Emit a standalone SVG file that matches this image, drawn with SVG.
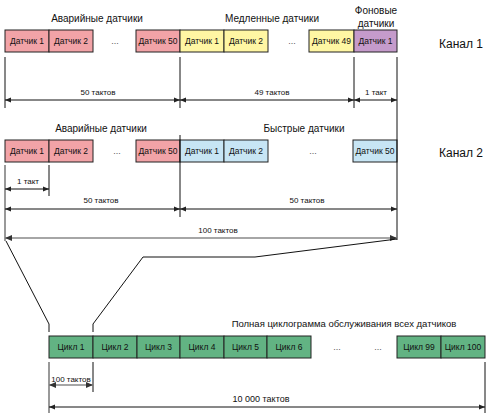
<svg xmlns="http://www.w3.org/2000/svg" width="490" height="417" viewBox="0 0 490 417">
<defs>
<marker id="ah" viewBox="0 0 6 6" refX="6" refY="3" markerWidth="6" markerHeight="6" markerUnits="userSpaceOnUse" orient="auto-start-reverse"><path d="M0,0.5 L6,3 L0,5.5 Z" fill="#222"/></marker>
<marker id="ahg" viewBox="0 0 6 6" refX="6" refY="3" markerWidth="7" markerHeight="7" markerUnits="userSpaceOnUse" orient="auto-start-reverse"><path d="M0,0.5 L6,3 L0,5.5 Z" fill="#333"/></marker>
</defs>
<style>
text{font-family:"Liberation Sans",Arial,sans-serif;fill:#111}
.bx{stroke:#222;stroke-width:1}
.r{fill:#f2a3a7}.y{fill:#fff6a3}.p{fill:#c59bcb}.b{fill:#c7e5f4}.g{fill:#62b383}
.bl{font-size:8.5px;text-anchor:middle}
.hd{font-size:10px;text-anchor:middle}
.dl{font-size:8px;text-anchor:middle}
.ch{font-size:12px}
.dots{font-size:9px;text-anchor:middle;fill:#555}
.ln{stroke:#111;stroke-width:1;fill:none}
.gl{stroke:#999;stroke-width:2;fill:none}
.dim{stroke:#111;stroke-width:1;fill:none;marker-start:url(#ah);marker-end:url(#ah)}
.dimg{stroke:#888;stroke-width:1.6;fill:none;marker-start:url(#ahg);marker-end:url(#ahg)}
</style>

<g id="labels">
<text class="hd" x="97" y="22">Аварийные датчики</text>
<text class="hd" x="272" y="22">Медленные датчики</text>
<text class="hd" x="376" y="14">Фоновые</text>
<text class="hd" x="376" y="27">датчики</text>
<text class="ch" x="439" y="48">Канал 1</text>
<text class="hd" x="101" y="132">Аварийные датчики</text>
<text class="hd" x="304" y="132">Быстрые датчики</text>
<text class="ch" x="439" y="157">Канал 2</text>
<text x="344" y="327" style="font-size:9.5px;text-anchor:middle">Полная циклограмма обслуживания всех датчиков</text>
</g>

<g id="row1">
<g id="r1-a1"><rect class="bx r" x="5" y="30" width="44" height="22"/><text class="bl" x="27" y="44">Датчик 1</text></g>
<g id="r1-a2"><rect class="bx r" x="49" y="30" width="44" height="22"/><text class="bl" x="71" y="44">Датчик 2</text></g>
<text class="dots" x="115" y="44">...</text>
<g id="r1-a50"><rect class="bx r" x="136" y="30" width="44" height="22"/><text class="bl" x="158" y="44">Датчик 50</text></g>
<g id="r1-s1"><rect class="bx y" x="180" y="30" width="44" height="22"/><text class="bl" x="202" y="44">Датчик 1</text></g>
<g id="r1-s2"><rect class="bx y" x="224" y="30" width="44" height="22"/><text class="bl" x="246" y="44">Датчик 2</text></g>
<text class="dots" x="292" y="44">...</text>
<g id="r1-s49"><rect class="bx y" x="309" y="30" width="45" height="22"/><text class="bl" x="331.5" y="44">Датчик 49</text></g>
<g id="r1-f1"><rect class="bx p" x="354" y="30" width="43" height="22"/><text class="bl" x="375.5" y="44">Датчик 1</text></g>
</g>

<g id="row2">
<g id="r2-a1"><rect class="bx r" x="5" y="140" width="44" height="22"/><text class="bl" x="27" y="154">Датчик 1</text></g>
<g id="r2-a2"><rect class="bx r" x="49" y="140" width="44" height="22"/><text class="bl" x="71" y="154">Датчик 2</text></g>
<text class="dots" x="117" y="154">...</text>
<g id="r2-a50"><rect class="bx r" x="136" y="140" width="44" height="22"/><text class="bl" x="158" y="154">Датчик 50</text></g>
<g id="r2-q1"><rect class="bx b" x="180" y="140" width="44" height="22"/><text class="bl" x="202" y="154">Датчик 1</text></g>
<g id="r2-q2"><rect class="bx b" x="224" y="140" width="44" height="22"/><text class="bl" x="246" y="154">Датчик 2</text></g>
<text class="dots" x="313" y="154">...</text>
<g id="r2-q50"><rect class="bx b" x="353" y="140" width="44" height="22"/><text class="bl" x="375" y="154">Датчик 50</text></g>
</g>

<g id="row3">
<g id="c1"><rect class="bx g" x="49" y="336" width="44" height="22"/><text class="bl" x="71" y="350">Цикл 1</text></g>
<g id="c2"><rect class="bx g" x="93" y="336" width="44" height="22"/><text class="bl" x="115" y="350">Цикл 2</text></g>
<g id="c3"><rect class="bx g" x="137" y="336" width="43" height="22"/><text class="bl" x="158.5" y="350">Цикл 3</text></g>
<g id="c4"><rect class="bx g" x="180" y="336" width="44" height="22"/><text class="bl" x="202" y="350">Цикл 4</text></g>
<g id="c5"><rect class="bx g" x="224" y="336" width="43" height="22"/><text class="bl" x="245.5" y="350">Цикл 5</text></g>
<g id="c6"><rect class="bx g" x="267" y="336" width="44" height="22"/><text class="bl" x="289" y="350">Цикл 6</text></g>
<text class="dots" x="337" y="350">...</text>
<text class="dots" x="378" y="350">...</text>
<g id="c99"><rect class="bx g" x="397" y="336" width="44" height="22"/><text class="bl" x="419" y="350">Цикл 99</text></g>
<g id="c100"><rect class="bx g" x="441" y="336" width="44" height="22"/><text class="bl" x="463" y="350">Цикл 100</text></g>
</g>

<g id="connectors">
<line class="ln" x1="5" y1="57" x2="5" y2="108"/>
<line class="ln" x1="180" y1="57" x2="180" y2="108"/>
<line class="ln" x1="354" y1="57" x2="354" y2="108"/>
<line class="ln" x1="397" y1="57" x2="397" y2="240"/>
<line class="dim" x1="5" y1="100" x2="180" y2="100"/>
<line class="dim" x1="180" y1="100" x2="354" y2="100"/>
<line class="dim" x1="354" y1="100" x2="397" y2="100"/>
<text class="dl" x="98" y="95">50 тактов</text>
<text class="dl" x="272" y="95">49 тактов</text>
<text class="dl" x="376" y="95">1 такт</text>

<line class="gl" x1="5" y1="165" x2="5" y2="241"/>
<line class="ln" x1="49" y1="165" x2="49" y2="196"/>
<line class="ln" x1="180" y1="135" x2="180" y2="217"/>
<line class="dim" x1="5" y1="189" x2="49" y2="189"/>
<text class="dl" x="28" y="184">1 такт</text>
<line class="dim" x1="5" y1="209" x2="180" y2="209"/>
<line class="dim" x1="180" y1="209" x2="397" y2="209"/>
<text class="dl" x="101" y="203">50 тактов</text>
<text class="dl" x="307" y="203">50 тактов</text>
<line class="dimg" x1="5" y1="238" x2="397" y2="238"/>
<text class="dl" x="218" y="233">100 тактов</text>

<polyline class="ln" points="6,241 49,324 49,332"/>
<polyline class="ln" points="397,239 255,257 143,257 93,324 93,332"/>

<line class="gl" x1="49" y1="362" x2="49" y2="413"/>
<line class="ln" x1="93" y1="362" x2="93" y2="392"/>
<line class="ln" x1="485" y1="362" x2="485" y2="413"/>
<line class="dimg" x1="49" y1="385" x2="93" y2="385"/>
<text class="dl" x="71" y="382">100 тактов</text>
<line class="dim" x1="49" y1="407" x2="485" y2="407"/>
<text x="261" y="402" style="font-size:9px;text-anchor:middle">10 000 тактов</text>
</g>
</svg>
